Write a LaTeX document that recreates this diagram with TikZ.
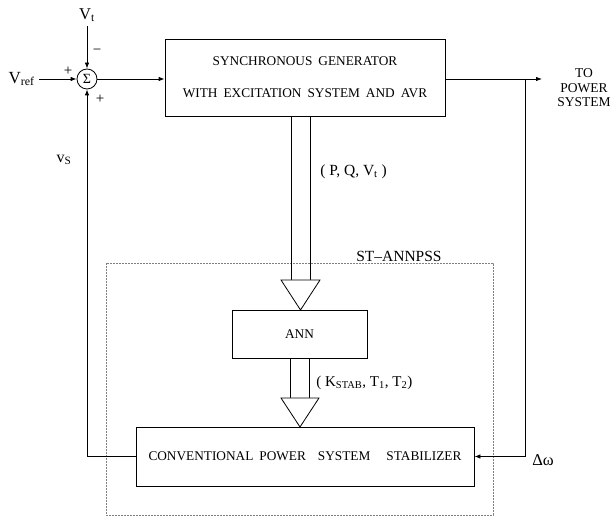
\documentclass[tikz,border=0pt]{standalone}
\usepackage{fontspec}
\setmainfont{Liberation Serif}
\usetikzlibrary{arrows.meta,calc}
\begin{document}
\begin{tikzpicture}[x=1pt,y=-1pt,line width=0.8pt,
  blk/.style={draw,inner sep=0pt,font=\fontsize{13.3}{32}\selectfont,align=center},
  arr/.style={-{Latex[length=6pt,width=4.5pt]}},
  big/.style={inner sep=0pt,font=\fontsize{16.5}{18}\selectfont},
  mid/.style={inner sep=0pt,font=\fontsize{15}{17}\selectfont},
  sgn/.style={inner sep=0pt,font=\fontsize{15}{17}\selectfont},
  hollow/.style={draw,line width=0.8pt,fill=white}
]
\useasboundingbox (0,0) rectangle (611,518);
% dashed ST-ANNPSS boundary
\draw[gray,line width=0.5pt,dash pattern=on 2pt off 1pt] (106,263) rectangle (493,515);
\node[mid,anchor=east,font=\fontsize{15.5}{17}\selectfont] (stlbl) at (442,256) {ST–ANNPSS};

% blocks
\node[blk,minimum width=280pt,minimum height=77pt] (sg) at (305,77.5)
  {SYNCHRONOUS\hspace{6pt}GENERATOR\\WITH\hspace{6pt}EXCITATION\hspace{6pt}SYSTEM\hspace{6pt}AND\hspace{6pt}AVR};
\node[blk,minimum width=135pt,minimum height=48pt] (ann) at (299.5,334) {ANN};
\node[blk,minimum width=338pt,minimum height=59pt] (cpss) at (305,456.5)
  {CONVENTIONAL\hspace{6pt}POWER\hspace{12pt}SYSTEM\hspace{16pt}STABILIZER};

% summing junction
\node[draw,circle,minimum size=20pt,inner sep=0pt,font=\fontsize{14}{15}\selectfont] (sum) at (87,79) {Σ};
\node[big] (vt) at (87,15) {V\textsubscript{t}};
\node[big,anchor=east,font=\fontsize{17}{19}\selectfont] (vref) at (35,79) {V\textsubscript{ref}};
\node[sgn] (m1) at (97,52) {−};
\node[sgn] (p1) at (68,71) {+};
\node[sgn] (p2) at (100,99) {+};
\node[mid,font=\fontsize{16}{18}\selectfont] (vs) at (64,160) {v\textsubscript{S}};

\draw[arr] (vt.south) ++(0,4) -- (sum.north);
\draw[arr] (vref.east) ++(4,0) -- (sum.west);
\draw[arr] (sum.east) -- (sg.west |- sum.east);

% output to power system
\coordinate (tap) at (525,79);
\coordinate (outp) at (542,79);
\node[align=center,inner sep=0pt,font=\fontsize{13.5}{14.5}\selectfont] (tops) at (584,88) {TO\\POWER\\SYSTEM};
\draw[arr] (sg.east |- tap) -- (outp);
\node[big] (dw) at (543,460) {Δω};
\draw[arr] (tap) -- (tap |- cpss.east) -- (cpss.east);

% feedback vS
\draw[arr] (cpss.west) -| (sum.south);

% hollow arrow SG -> ANN
\draw (291,116) -- (291,280) (310,116) -- (310,280);
\draw[hollow] (281,280) -- (320,280) -- (300.5,310) -- cycle;
\node[mid,anchor=west,font=\fontsize{15.5}{17}\selectfont] (pqv) at (320,172) {( P, Q, V\textsubscript{t} )};

% hollow arrow ANN -> CPSS
\draw (290,358) -- (290,398) (309,358) -- (309,398);
\draw[hollow] (281,398) -- (319,398) -- (300,427) -- cycle;
\node[mid,anchor=west] (kst) at (316,383) {( K\textsubscript{STAB}, T\textsubscript{1}, T\textsubscript{2})};
\end{tikzpicture}
\end{document}
